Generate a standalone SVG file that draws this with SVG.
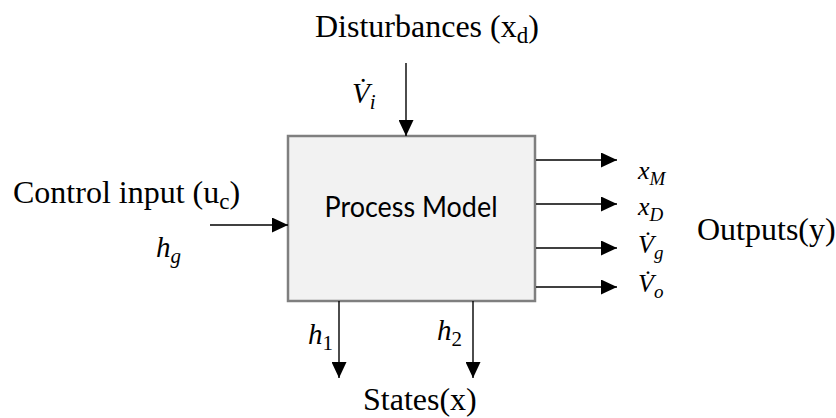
<svg xmlns="http://www.w3.org/2000/svg" width="836" height="418" viewBox="0 0 836 418">
<defs>
<marker id="ah" markerWidth="16" markerHeight="15" refX="16" refY="7.5" orient="auto" markerUnits="userSpaceOnUse">
<path d="M0,0 L16,7.5 L0,15 z" fill="#000"/>
</marker>
<style>
.lbl{font-family:"Liberation Serif","Times New Roman",serif;font-size:32px;fill:#000}
.m{font-family:"Liberation Serif","Times New Roman",serif;font-style:italic;fill:#000}
.big{font-size:29px}
.sm{font-size:26px}
.up{font-style:normal}
.conn line{stroke:#000;stroke-width:1.4;marker-end:url(#ah)}
</style>
</defs>
<rect width="836" height="418" fill="#fff"/>
<g id="process-model">
<rect x="288" y="136" width="247" height="165" fill="#f2f2f2" stroke="#7f7f7f" stroke-width="2.5"/>
<text x="411" y="217" text-anchor="middle" font-family="Lato,'Open Sans',sans-serif" font-size="28" fill="#000" textLength="173" lengthAdjust="spacingAndGlyphs">Process Model</text>
</g>
<g id="connectors" class="conn">
<line x1="406" y1="63" x2="406" y2="136"/>
<line x1="210" y1="225" x2="288" y2="225"/>
<line x1="536" y1="160" x2="617" y2="160"/>
<line x1="536" y1="204" x2="617" y2="204"/>
<line x1="536" y1="248" x2="617" y2="248"/>
<line x1="536" y1="287" x2="617" y2="287"/>
<line x1="339" y1="301" x2="339" y2="378"/>
<line x1="473" y1="301" x2="473" y2="378"/>
</g>
<g id="disturbances">
<text class="lbl" x="315" y="37">Disturbances (x<tspan font-size="23" dy="6">d</tspan><tspan dy="-6">)</tspan></text>
<text class="m big" x="352" y="103">V̇<tspan font-size="21" dy="6">i</tspan></text>
</g>
<g id="control-input">
<text class="lbl" x="13" y="203">Control input (u<tspan font-size="23" dy="6">c</tspan><tspan dy="-6">)</tspan></text>
<text class="m big" x="156" y="257">h<tspan font-size="21" dy="6">g</tspan></text>
</g>
<g id="outputs">
<text class="m sm" x="638" y="179">x<tspan font-size="19" dy="6">M</tspan></text>
<text class="m sm" x="638" y="215">x<tspan font-size="19" dy="6">D</tspan></text>
<text class="m sm" x="638" y="253">V̇<tspan font-size="19" dy="6">g</tspan></text>
<text class="m sm" x="638" y="292">V̇<tspan font-size="19" dy="6">o</tspan></text>
<text class="lbl" x="697" y="240">Outputs(y)</text>
</g>
<g id="states">
<text class="m big" x="308" y="344">h<tspan class="up" font-size="21" dy="6">1</tspan></text>
<text class="m big" x="437" y="340">h<tspan class="up" font-size="21" dy="6">2</tspan></text>
<text class="lbl" x="363" y="410">States(x)</text>
</g>
</svg>
